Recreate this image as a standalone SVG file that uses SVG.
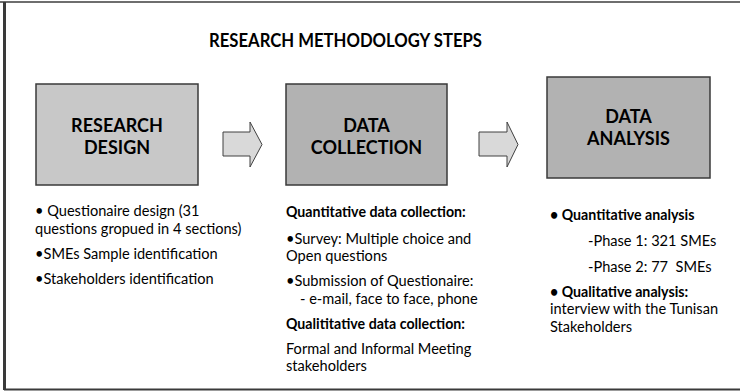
<svg xmlns="http://www.w3.org/2000/svg" width="740" height="391" viewBox="0 0 740 391">
<style>
.t{font-family:Lato,"Liberation Sans",sans-serif;font-size:14.6px;fill:#000;white-space:pre}
.b{font-weight:bold;font-size:14.2px}
.h{font-family:Lato,"Liberation Sans",sans-serif;font-size:18px;font-weight:bold;fill:#000;text-anchor:middle}
.box{stroke:#3a3a3a;stroke-width:1.5}
.arr{fill:#d9d9d9;stroke:#404040;stroke-width:1}
</style>
<rect width="740" height="391" fill="#fff"/>
<line x1="0" y1="2" x2="740" y2="2" stroke="#6e6e6e" stroke-width="2"/>
<line x1="4.5" y1="2" x2="4.5" y2="390" stroke="#3a3a3a" stroke-width="3"/>
<line x1="4" y1="389.5" x2="740" y2="389.5" stroke="#3a3a3a" stroke-width="2"/>
<text id="title" class="h" x="345.5" y="47" textLength="273" lengthAdjust="spacingAndGlyphs">RESEARCH METHODOLOGY STEPS</text>
<g id="design">
<rect class="box" x="36" y="84" width="162" height="101" fill="#c8c8c8"/>
<text class="h" x="117" y="132">RESEARCH</text>
<text class="h" x="117" y="154">DESIGN</text>
</g>
<g id="collection">
<rect class="box" x="286" y="84" width="161" height="101" fill="#b2b2b2"/>
<text class="h" x="366.5" y="132">DATA</text>
<text class="h" x="366.5" y="154">COLLECTION</text>
</g>
<g id="analysis">
<rect class="box" x="547" y="77" width="163" height="101" fill="#b2b2b2"/>
<text class="h" x="628.5" y="123">DATA</text>
<text class="h" x="628.5" y="145">ANALYSIS</text>
</g>
<g id="connectors">
<polygon class="arr" points="223,132 250,132 250,122 262,144.5 250,167 250,156 223,156"/>
<polygon class="arr" points="479,132 507,132 507,122 518,144.5 507,167 507,156 479,156"/>
</g>
<g id="design-notes">
<text class="t" x="35" y="216">• Questionaire design (31</text>
<text class="t" x="35" y="234">questions gropued in 4 sections)</text>
<text class="t" x="35" y="259">•SMEs Sample identification</text>
<text class="t" x="35" y="284">•Stakeholders identification</text>
</g>
<g id="collection-notes">
<text class="t b" x="286" y="217">Quantitative data collection:</text>
<text class="t" x="286" y="244">•Survey: Multiple choice and</text>
<text class="t" x="286" y="261">Open questions</text>
<text class="t" x="286" y="286">•Submission of Questionaire:</text>
<text class="t" x="300" y="304">- e-mail, face to face, phone</text>
<text class="t b" x="286" y="329">Qualititative data collection:</text>
<text class="t" x="286" y="354">Formal and Informal Meeting</text>
<text class="t" x="286" y="371">stakeholders</text>
</g>
<g id="analysis-notes">
<text class="t b" x="550" y="220">• Quantitative analysis</text>
<text class="t" x="588" y="246">-Phase 1: 321 SMEs</text>
<text class="t" x="588" y="272">-Phase 2: 77  SMEs</text>
<text class="t b" x="550" y="297">• Qualitative analysis:</text>
<text class="t" x="550" y="314">interview with the Tunisan</text>
<text class="t" x="550" y="332">Stakeholders</text>
</g>
</svg>
